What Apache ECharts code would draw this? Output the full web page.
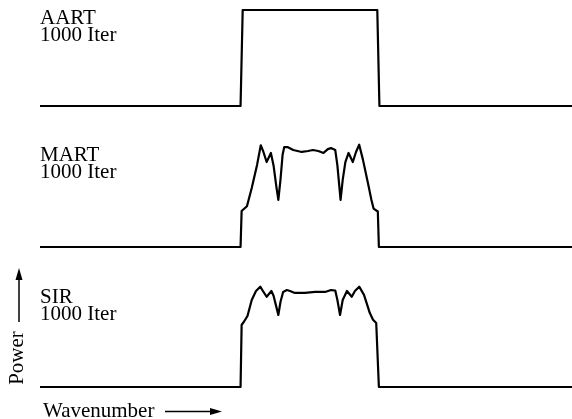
<!DOCTYPE html>
<html>
<head>
<meta charset="utf-8">
<script src="https://cdn.jsdelivr.net/npm/echarts@6/dist/echarts.min.js"></script>
<style>
html,body{margin:0;padding:0;background:#fff;}
#chart{width:572px;height:419px;}
</style>
</head>
<body>
<div id="chart"></div>
<script>
// Method names and iteration label
const methods = ['AART', 'MART', 'SIR'];
const iterLabel = '1000 Iter';
const yAxisName = 'Power';
const xAxisName = 'Wavenumber';

// Wavenumber (arbitrary units 0..100) and power (normalised)
const aartX = [0, 37.7, 38.1, 63.4, 63.8, 100];
const aartY = [0, 0, 1, 1, 0, 0];

const martX = [0, 37.7, 37.9, 38.9, 39.8, 40.8, 41.5, 42.0, 42.6, 43.4, 43.9, 44.4, 44.8, 45.2, 45.6, 45.9, 46.6, 47.6, 49.2, 50.4, 51.3, 52.3, 53.3, 54.1, 54.7, 55.5, 55.9, 56.5, 56.9, 57.4, 58.0, 58.8, 59.4, 60.0, 60.7, 61.7, 62.3, 62.7, 63.5, 63.7, 100];
const martY = [0, 0, 0.375, 0.425, 0.615, 0.855, 1.06, 0.99, 0.885, 0.98, 0.85, 0.64, 0.49, 0.70, 0.96, 1.04, 1.04, 1.01, 0.99, 1.0, 1.01, 1.0, 0.98, 1.02, 1.03, 1.01, 0.85, 0.49, 0.70, 0.885, 0.98, 0.885, 0.99, 1.065, 0.91, 0.65, 0.49, 0.40, 0.37, 0, 0];

const sirX = [0, 37.7, 37.9, 38.3, 39.0, 39.8, 40.6, 41.4, 41.9, 42.6, 43.5, 43.9, 44.4, 44.8, 45.2, 45.7, 46.4, 47.0, 47.9, 49.8, 51.7, 53.6, 54.7, 55.5, 55.9, 56.4, 56.9, 57.7, 58.6, 59.2, 60.0, 60.9, 62.0, 62.6, 63.2, 63.7, 100];
const sirY = [0, 0, 0.646, 0.677, 0.74, 0.906, 1.0, 1.045, 1.0, 0.94, 1.0, 0.95, 0.84, 0.75, 0.885, 0.99, 1.01, 1.0, 0.98, 0.98, 0.99, 0.99, 1.01, 1.005, 0.906, 0.75, 0.906, 1.0, 0.94, 1.0, 1.045, 0.96, 0.77, 0.70, 0.667, 0, 0];

const seriesX = [aartX, martX, sirX];
const seriesY = [aartY, martY, sirY];

const chart = echarts.init(document.getElementById('chart'), null, {renderer: 'canvas'});
const gridTops = [0.4, 141.4, 281.4];
const gridH = 105.6;
const labelY = [[18, 35.5], [155, 172], [297.5, 314.5]];
const font = 'normal 21px "Liberation Serif", "DejaVu Serif", serif';

const grids = [], xAxes = [], yAxes = [], series = [], graphics = [];
methods.forEach((m, i) => {
  grids.push({left: 40, right: 0, top: gridTops[i], height: gridH});
  xAxes.push({type: 'value', gridIndex: i, min: 0, max: 100, show: false});
  yAxes.push({type: 'value', gridIndex: i, min: 0, max: 1.1, show: false});
  series.push({
    name: m, type: 'line', xAxisIndex: i, yAxisIndex: i,
    data: seriesX[i].map((x, k) => [x, seriesY[i][k]]),
    symbol: 'none', clip: false,
    lineStyle: {color: '#000', width: 2.2, join: 'round'}
  });
  graphics.push({type: 'text', x: 40, y: labelY[i][0],
    style: {text: m, font: font, fill: '#000', align: 'left', verticalAlign: 'middle'}});
  graphics.push({type: 'text', x: 40, y: labelY[i][1],
    style: {text: iterLabel, font: font, fill: '#000', align: 'left', verticalAlign: 'middle'}});
});

// Power axis label with arrow
graphics.push({type: 'text', x: 17.5, y: 358, rotation: Math.PI / 2,
  style: {text: yAxisName, font: font, fill: '#000', align: 'center', verticalAlign: 'middle'}});
graphics.push({type: 'line', shape: {x1: 19, y1: 322, x2: 19, y2: 276}, style: {stroke: '#000', lineWidth: 1.5}});
graphics.push({type: 'polygon', shape: {points: [[19, 268], [15.5, 280], [22.5, 280]]}, style: {fill: '#000'}});
// Wavenumber label with arrow
graphics.push({type: 'text', x: 43, y: 411,
  style: {text: xAxisName, font: font, fill: '#000', align: 'left', verticalAlign: 'middle'}});
graphics.push({type: 'line', shape: {x1: 165, y1: 411.5, x2: 214, y2: 411.5}, style: {stroke: '#000', lineWidth: 1.5}});
graphics.push({type: 'polygon', shape: {points: [[222, 411.5], [210, 408], [210, 415]]}, style: {fill: '#000'}});

chart.setOption({
  animation: false,
  backgroundColor: '#fff',
  grid: grids, xAxis: xAxes, yAxis: yAxes, series: series,
  graphic: graphics
});
</script>
</body>
</html>
